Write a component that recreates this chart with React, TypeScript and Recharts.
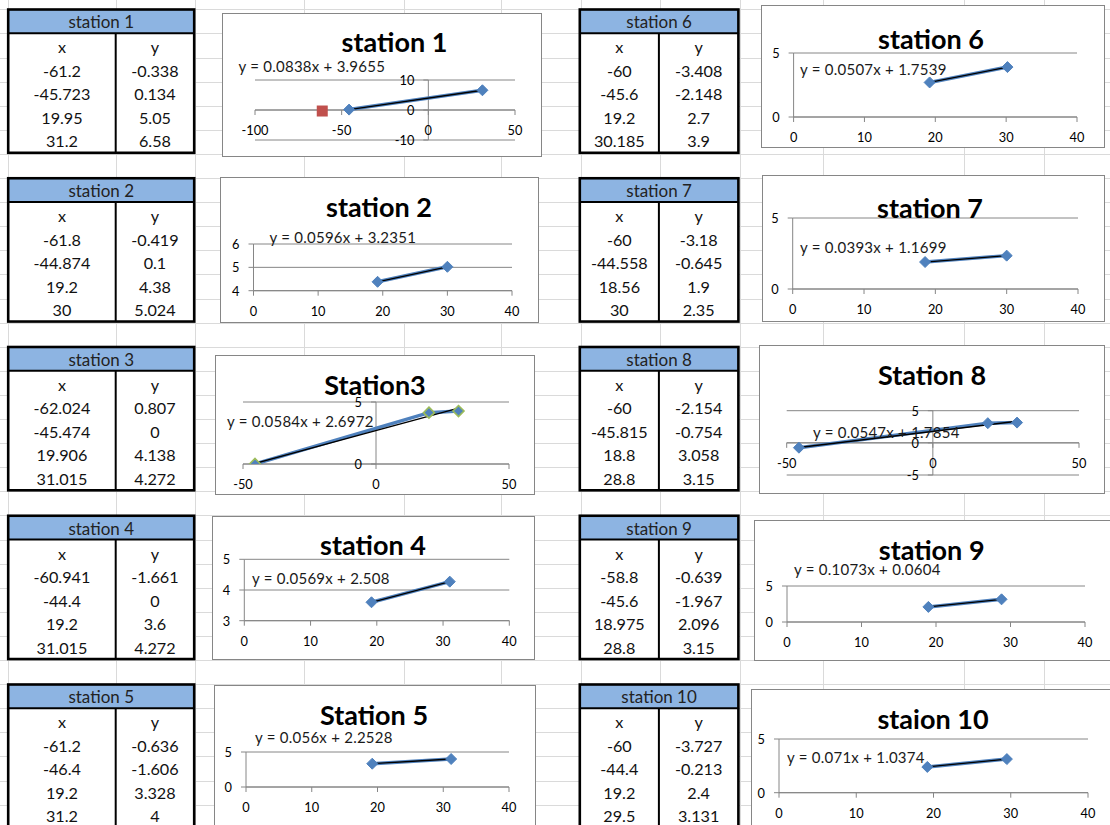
import React from 'react';
import { ScatterChart, Scatter, XAxis, YAxis, CartesianGrid, ReferenceLine } from 'recharts';

const FONT = 'Lato, "Open Sans", sans-serif';
const AXIS = '#868686';
const BLUE = '#4F81BD';
const SHEET_LINE = '#dadada';

// ---- station data ----
const stationNames = [
  'station 1', 'station 2', 'station 3', 'station 4', 'station 5',
  'station 6', 'station 7', 'station 8', 'station 9', 'station 10',
];
const chartTitles = [
  'station 1', 'station 2', 'Station3', 'station 4', 'Station 5',
  'station 6', 'station 7', 'Station 8', 'station 9', 'staion 10',
];
const xValues = [
  [-61.2, -45.723, 19.95, 31.2],
  [-61.8, -44.874, 19.2, 30],
  [-62.024, -45.474, 19.906, 31.015],
  [-60.941, -44.4, 19.2, 31.015],
  [-61.2, -46.4, 19.2, 31.2],
  [-60, -45.6, 19.2, 30.185],
  [-60, -44.558, 18.56, 30],
  [-60, -45.815, 18.8, 28.8],
  [-58.8, -45.6, 18.975, 28.8],
  [-60, -44.4, 19.2, 29.5],
];
const yValues = [
  [-0.338, 0.134, 5.05, 6.58],
  [-0.419, 0.1, 4.38, 5.024],
  [0.807, 0, 4.138, 4.272],
  [-1.661, 0, 3.6, 4.272],
  [-0.636, -1.606, 3.328, 4],
  [-3.408, -2.148, 2.7, 3.9],
  [-3.18, -0.645, 1.9, 2.35],
  [-2.154, -0.754, 3.058, 3.15],
  [-0.639, -1.967, 2.096, 3.15],
  [-3.727, -0.213, 2.4, 3.131],
];
// table rows that make up each plotted series
const plottedRows = [[1, 3], [2, 3], [1, 2, 3], [2, 3], [2, 3], [2, 3], [2, 3], [1, 2, 3], [2, 3], [2, 3]];
// rows shown as a second (red) series
const secondRows = [[0], [], [], [], [], [], [], [], [], []];

// linear trendline labels
const slopes = [0.0838, 0.0596, 0.0584, 0.0569, 0.056, 0.0507, 0.0393, 0.0547, 0.1073, 0.071];
const intercepts = [3.9655, 3.2351, 2.6972, 2.508, 2.2528, 1.7539, 1.1699, 1.7854, 0.0604, 1.0374];
// station 6's label comes from another fit, so its dark line just follows the points
const trendFromLabel = [true, true, true, true, true, false, true, true, true, true];

const xDomains = [[-100, 50], [0, 40], [-50, 50], [0, 40], [0, 40], [0, 40], [0, 40], [-50, 50], [0, 40], [0, 40]];
const xTickValues = [
  [-100, -50, 0, 50], [0, 10, 20, 30, 40], [-50, 0, 50], [0, 10, 20, 30, 40], [0, 10, 20, 30, 40],
  [0, 10, 20, 30, 40], [0, 10, 20, 30, 40], [-50, 0, 50], [0, 10, 20, 30, 40], [0, 10, 20, 30, 40],
];
const yDomains = [[-10, 10], [4, 6], [0, 5], [3, 5], [0, 5], [0, 5], [0, 5], [-5, 5], [0, 5], [0, 5]];
const yTickValues = [[-10, 0, 10], [4, 5, 6], [0, 5], [3, 4, 5], [0, 5], [0, 5], [0, 5], [-5, 0, 5], [0, 5], [0, 5]];

// ---- sheet layout ----
const colLines = [8, 116, 195, 304, 404, 501, 581, 660, 740, 823, 964, 1044];
const ROW_H = 24.1;
const ROW0 = 9.3;
const TABLE_TOP = 9.5;
const BLOCK = 168.75;
const TABLE_H = 143.3;
const HEAD_H = 23.8;
const tableEdges = [[8.2, 115.7, 194.2], [579.8, 658.9, 738.4]];

// chart frames: left, top, width, height
const frames = [
  [222, 13, 320, 144], [220, 177, 319, 146], [215, 355, 320, 140], [212, 516, 323, 144], [214, 685, 322, 150],
  [761, 5, 344, 143], [762, 175, 343, 147], [759, 345, 346, 149], [754, 520, 362, 141], [751, 689, 365, 150],
];
// plot areas: left, top, right, bottom
const plotAreas = [
  [255, 80, 515, 140], [253.5, 244, 512, 290.7], [243, 402, 509, 464], [244.3, 559.3, 509.3, 620.7], [246, 752, 509, 787],
  [793.6, 53, 1077, 117], [792.7, 218, 1078, 289], [786.7, 410.7, 1079, 475], [787, 586, 1085, 622], [779, 739, 1088, 792.7],
];
// title centre x / baseline y
const titleAt = [
  [394.5, 51.7], [379, 216.7], [375, 395], [373, 555], [374, 725],
  [931, 49.3], [930, 218.3], [932, 385], [931.7, 560], [933, 729.3],
];
// equation left x / baseline y
const equationAt = [
  [238.5, 71.7], [269.5, 242.7], [227, 427.3], [252, 584], [255, 742.7],
  [800, 75], [800, 252.7], [813, 438.3], [794, 575], [787, 763.3],
];
const markerEdges = [BLUE, BLUE, '#9BBB59', BLUE, BLUE, BLUE, BLUE, BLUE, BLUE, BLUE];

const noMarker = () => <g />;

const diamond = (edge: string) => (props: any) => {
  const { cx, cy } = props;
  const r = 5.5;
  return (
    <path
      d={`M${cx},${cy - r}L${cx + r},${cy}L${cx},${cy + r}L${cx - r},${cy}Z`}
      fill={BLUE}
      stroke={edge}
      strokeWidth={edge === BLUE ? 1 : 1.6}
    />
  );
};

const square = (props: any) => {
  const { cx, cy } = props;
  return <rect x={cx - 5.5} y={cy - 5.5} width={11} height={11} fill="#C0504D" />;
};

const labelStyle = { fontFamily: FONT, fontSize: 12.8, fill: '#000' };

const xTick = (axisY: number) => (props: any) => {
  const { x, payload } = props;
  return (
    <g>
      <line x1={x} x2={x} y1={axisY} y2={axisY + 5} stroke={AXIS} />
      <text x={x} y={axisY + 25} textAnchor="middle" {...labelStyle}>{payload.value}</text>
    </g>
  );
};

const yTick = (axisX: number) => (props: any) => {
  const { y, payload } = props;
  return (
    <g>
      <line x1={axisX - 5} x2={axisX} y1={y} y2={y} stroke={AXIS} />
      <text x={axisX - 14} y={y + 5} textAnchor="end" {...labelStyle}>{payload.value}</text>
    </g>
  );
};

function StationChart({ i }: { i: number }) {
  const [fl, ft, fw, fh] = frames[i];
  const [pl, pt, pr, pb] = plotAreas[i];
  const left = pl - fl;
  const top = pt - ft;
  const right = fl + fw - pr;
  const bottom = ft + fh - pb;
  const [x0, x1] = xDomains[i];
  const [y0, y1] = yDomains[i];
  // axes cross at zero when the range spans it
  const xCross = x0 < 0 && x1 > 0 ? 0 : x0;
  const yCross = y0 < 0 && y1 > 0 ? 0 : y0;
  const axisX = left + ((xCross - x0) / (x1 - x0)) * (pr - pl);
  const axisY = top + ((y1 - yCross) / (y1 - y0)) * (pb - pt);

  const series = plottedRows[i].map((k) => ({ x: xValues[i][k], y: yValues[i][k] }));
  const second = secondRows[i].map((k) => ({ x: xValues[i][k], y: yValues[i][k] }));
  const xs = series.map((p) => p.x);
  const trend = trendFromLabel[i]
    ? [Math.min(...xs), Math.max(...xs)].map((x) => ({ x, y: slopes[i] * x + intercepts[i] }))
    : series;
  const equation = `y = ${slopes[i]}x + ${intercepts[i]}`;

  return (
    <div
      style={{
        position: 'absolute', left: fl, top: ft, width: fw, height: fh,
        background: '#fff', outline: `1px solid ${AXIS}`, outlineOffset: -1,
      }}
    >
      <ScatterChart width={fw} height={fh} margin={{ top, right, bottom: 0, left: 0 }}>
        <CartesianGrid vertical={false} stroke={AXIS} />
        <XAxis
          type="number" dataKey="x" domain={[x0, x1]} ticks={xTickValues[i]} allowDataOverflow interval={0}
          height={bottom} axisLine={false} tickLine={false} tick={xTick(axisY)}
        />
        <YAxis
          type="number" dataKey="y" domain={[y0, y1]} ticks={yTickValues[i]} allowDataOverflow interval={0}
          width={left} axisLine={false} tickLine={false} tick={yTick(axisX)}
        />
        <ReferenceLine x={xCross} stroke={AXIS} />
        <ReferenceLine y={yCross} stroke={AXIS} />
        <Scatter data={series} line={{ stroke: BLUE, strokeWidth: 3.5 }} shape={noMarker} isAnimationActive={false} />
        <Scatter data={trend} line={{ stroke: '#000', strokeWidth: 1.3 }} shape={noMarker} isAnimationActive={false} />
        <Scatter data={series} shape={diamond(markerEdges[i])} isAnimationActive={false} />
        {second.length > 0 && <Scatter data={second} shape={square} isAnimationActive={false} />}
      </ScatterChart>
      <svg
        width={fw} height={fh}
        style={{ position: 'absolute', left: 0, top: 0, pointerEvents: 'none' }}
      >
        <text
          x={titleAt[i][0] - fl} y={titleAt[i][1] - ft} textAnchor="middle"
          fontFamily={FONT} fontWeight={700} fontSize={27} fill="#000"
        >
          {chartTitles[i]}
        </text>
        <text
          x={equationAt[i][0] - fl} y={equationAt[i][1] - ft}
          fontFamily={FONT} fontSize={15} letterSpacing={0.25} fill="#1a1a1a"
        >
          {equation}
        </text>
      </svg>
    </div>
  );
}

function StationTable({ i }: { i: number }) {
  const [l, d, r] = tableEdges[i < 5 ? 0 : 1];
  const top = TABLE_TOP + (i % 5) * BLOCK;
  const rows = [['x', 'y'], ...xValues[i].map((x, k) => [String(x), String(yValues[i][k])])];
  return (
    <g fontFamily={FONT}>
      <rect x={l} y={top} width={r - l} height={TABLE_H} fill="#fff" />
      <rect x={l} y={top} width={r - l} height={HEAD_H} fill="#8DB4E2" />
      <text x={(l + r) / 2} y={top + 18.8} textAnchor="middle" fontSize={17} fill="#222">{stationNames[i]}</text>
      {rows.map((row, k) => (
        <g key={k}>
          <text x={(l + d) / 2} y={top + 43.8 + k * 23.5} textAnchor="middle" fontSize={16.2} fill="#111">{row[0]}</text>
          <text x={(d + r) / 2} y={top + 43.8 + k * 23.5} textAnchor="middle" fontSize={16.2} fill="#111">{row[1]}</text>
        </g>
      ))}
      <line x1={l} x2={r} y1={top + HEAD_H} y2={top + HEAD_H} stroke="#000" strokeWidth={2} />
      <line x1={d} x2={d} y1={top + HEAD_H} y2={top + TABLE_H} stroke="#000" strokeWidth={2} />
      <rect x={l} y={top} width={r - l} height={TABLE_H} fill="none" stroke="#000" strokeWidth={2.6} />
    </g>
  );
}

function Sheet() {
  const rowLines = Array.from({ length: 36 }, (_, k) => Math.round(ROW0 + (k - 1) * ROW_H) + 0.5);
  return (
    <svg width={1110} height={825} style={{ position: 'absolute', left: 0, top: 0 }}>
      <rect width={1110} height={825} fill="#fff" />
      {colLines.map((x) => (
        <line key={`c${x}`} x1={x + 0.5} x2={x + 0.5} y1={0} y2={825} stroke={SHEET_LINE} />
      ))}
      {rowLines.map((y) => (
        <line key={`r${y}`} x1={0} x2={1110} y1={y} y2={y} stroke={SHEET_LINE} />
      ))}
      {stationNames.map((_, i) => (
        <StationTable key={i} i={i} />
      ))}
    </svg>
  );
}

export default function App() {
  return (
    <div
      style={{
        position: 'absolute', left: 0, top: 0, width: 1110, height: 825,
        overflow: 'hidden', background: '#fff', fontFamily: FONT,
      }}
    >
      <Sheet />
      {stationNames.map((_, i) => (
        <StationChart key={i} i={i} />
      ))}
    </div>
  );
}
